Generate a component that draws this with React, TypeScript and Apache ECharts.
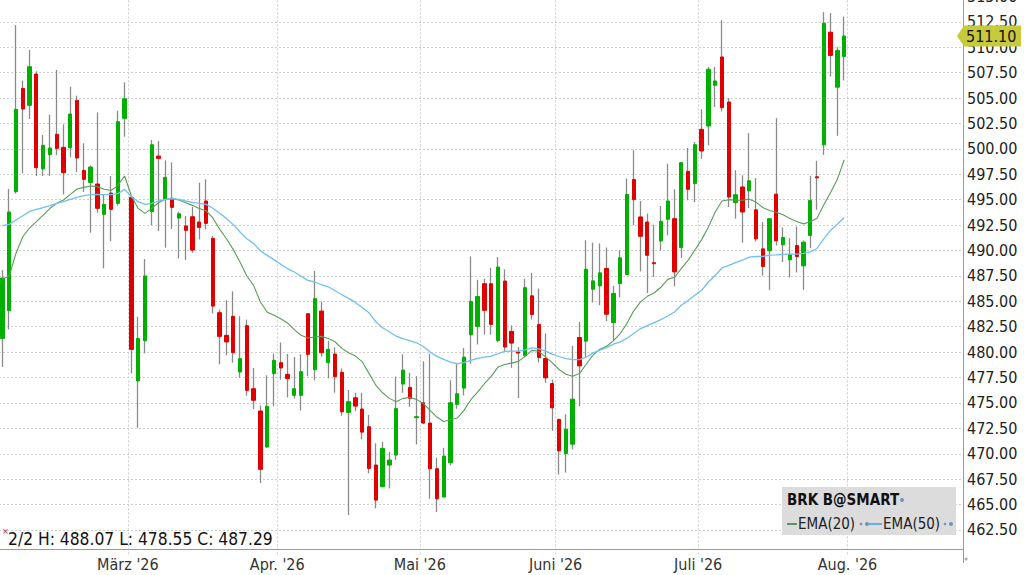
import React, { useEffect, useRef } from "react";
import * as echarts from "echarts";

// ---- data ----
const opens = [
  481.35, 484.08, 495.79, 505.95, 504.28, 507.36, 498.02, 499.43, 501.43, 500.15,
  500.11, 504.77, 497.88, 496.7, 496.54, 493.56, 495.65, 494.64, 503.0, 495.23,
  477.16, 481.12, 493.82, 499.29, 495.03, 495.13, 493.19, 492.41, 493.32, 492.8,
  494.87, 491.19, 483.88, 481.65, 483.52, 478.04, 482.6, 476.4, 474.21, 470.66,
  477.88, 478.96, 477.81, 475.75, 475.75, 483.78, 478.27, 484.04, 478.96, 479.81,
  478.01, 474.07, 475.51, 474.4, 472.66, 468.89, 466.76, 468.89, 469.87, 476.86,
  476.53, 473.55, 475.02, 473.02, 468.53, 465.74, 469.12, 474.86, 476.46, 481.71,
  482.53, 486.73, 486.73, 481.15, 486.99, 482.04, 480.01, 479.68, 485.54, 482.72,
  479.37, 476.91, 473.37, 470.02, 470.94, 481.44, 481.08, 486.19, 486.52, 488.23,
  482.91, 486.75, 487.64, 496.98, 493.3, 492.8, 488.8, 490.94, 493.07, 493.13,
  490.28, 497.79, 496.58, 501.92, 502.25, 506.25, 509.04, 504.61, 494.71, 496.25,
  495.87, 494.0, 490.16, 489.97, 495.54, 490.56, 489.08, 490.49, 488.49, 491.48,
  497.25, 500.4, 511.48, 506.07, 509.09,
];
const highs = [
  488.07, 496.05, 512.18, 506.71, 509.72, 507.63, 501.36, 503.36, 507.76, 502.41,
  506.12, 505.23, 500.54, 498.37, 503.59, 495.52, 497.33, 503.75, 506.55, 495.3,
  483.48, 489.16, 500.87, 500.77, 498.87, 498.67, 493.82, 493.39, 494.31, 496.67,
  497.0, 491.42, 484.18, 485.1, 485.98, 483.52, 483.19, 478.44, 474.76, 477.72,
  479.85, 480.94, 479.82, 479.52, 479.78, 483.85, 487.98, 484.96, 481.12, 480.46,
  478.4, 476.27, 476.0, 476.0, 473.81, 471.02, 471.18, 470.2, 477.6, 479.78,
  477.97, 477.64, 479.09, 479.84, 469.61, 470.59, 477.22, 478.86, 480.4, 489.42,
  487.12, 487.22, 488.3, 489.35, 488.14, 482.63, 480.5, 487.22, 487.8, 486.25,
  481.83, 477.3, 473.47, 473.89, 480.62, 482.98, 491.01, 490.78, 490.69, 490.29,
  486.52, 490.03, 497.08, 499.87, 494.87, 493.63, 492.54, 494.38, 498.54, 496.02,
  498.7, 500.09, 500.68, 503.89, 508.06, 508.06, 512.65, 505.0, 497.89, 497.4,
  501.55, 497.12, 492.79, 493.2, 503.02, 492.26, 491.21, 492.36, 490.98, 497.35,
  498.82, 513.45, 513.35, 510.0, 513.02,
];
const lows = [
  478.55, 482.24, 495.6, 497.59, 502.94, 497.33, 497.33, 497.33, 499.39, 495.52,
  499.16, 497.72, 495.75, 491.75, 493.72, 488.24, 490.93, 494.41, 501.2, 477.91,
  472.56, 479.88, 492.5, 491.91, 490.27, 492.13, 489.23, 489.06, 489.78, 491.09,
  492.08, 483.81, 478.8, 479.68, 478.96, 477.49, 475.72, 474.4, 467.12, 470.6,
  474.67, 477.29, 475.55, 475.42, 474.27, 477.62, 477.22, 479.55, 477.41, 476.0,
  473.74, 463.97, 474.2, 471.41, 468.07, 464.62, 466.7, 466.59, 469.38, 476.0,
  474.63, 470.92, 472.95, 465.57, 464.26, 465.7, 468.85, 474.43, 475.74, 478.86,
  480.76, 481.71, 481.71, 480.99, 480.07, 478.46, 475.48, 479.51, 483.21, 478.98,
  476.98, 472.25, 467.96, 468.15, 470.42, 474.68, 479.53, 484.88, 484.62, 483.04,
  481.17, 485.37, 487.6, 492.49, 487.95, 485.82, 487.39, 490.02, 491.5, 486.48,
  489.26, 494.94, 494.77, 499.04, 500.35, 504.12, 503.69, 494.28, 493.13, 490.77,
  494.17, 490.89, 487.54, 486.13, 490.49, 488.85, 487.34, 487.84, 486.13, 490.23,
  494.0, 499.41, 507.12, 501.28, 506.73,
];
const closes = [
  487.29, 493.79, 503.89, 503.92, 508.08, 498.15, 500.34, 500.08, 500.05, 497.65,
  503.43, 499.1, 497.0, 498.21, 494.15, 494.54, 494.05, 502.67, 504.93, 480.27,
  481.35, 487.49, 500.41, 499.06, 497.19, 494.24, 493.62, 491.98, 490.04, 492.27,
  492.67, 484.53, 481.55, 481.0, 479.95, 479.36, 476.24, 475.26, 468.47, 474.67,
  479.19, 478.44, 477.39, 476.4, 478.08, 479.78, 485.26, 479.94, 480.27, 477.58,
  474.13, 475.12, 474.69, 472.13, 468.56, 465.44, 470.53, 469.38, 474.45, 478.23,
  475.45, 473.65, 473.02, 468.53, 465.57, 469.77, 475.02, 475.91, 479.51, 484.99,
  485.48, 484.11, 482.73, 488.37, 480.5, 480.89, 479.91, 486.34, 483.7, 479.47,
  477.47, 474.52, 470.29, 472.42, 475.37, 478.65, 488.16, 487.01, 487.8, 483.73,
  485.77, 489.28, 495.51, 495.01, 491.4, 489.53, 488.7, 492.87, 494.87, 487.89,
  498.64, 496.02, 500.41, 499.79, 507.83, 506.68, 504.05, 495.26, 495.49, 493.79,
  496.86, 491.15, 488.43, 493.12, 490.95, 491.28, 489.57, 489.41, 490.82, 494.92,
  497.15, 512.37, 509.19, 509.68, 511.1,
];
const ema20 = [
  487.16, 487.49, 489.72, 491.36, 492.21, 492.84, 493.49, 494.15, 494.64, 494.97,
  495.52, 496.05, 496.21, 496.34, 496.28, 496.02, 495.9, 496.41, 497.33, 495.36,
  494.14, 493.65, 494.14, 494.7, 495.03, 495.1, 494.96, 494.7, 494.44, 494.14,
  493.91, 493.2, 492.1, 491.16, 490.11, 488.87, 487.49, 486.57, 484.93, 483.95,
  483.62, 483.29, 482.87, 482.21, 481.65, 481.39, 481.49, 481.55, 481.35, 481.02,
  480.37, 479.94, 479.61, 479.06, 477.91, 476.76, 476.0, 475.45, 475.12, 475.45,
  475.54, 475.35, 474.95, 474.27, 473.61, 473.18, 473.35, 473.51, 474.27, 475.32,
  476.07, 476.89, 477.61, 478.53, 478.79, 478.92, 479.09, 479.58, 480.17, 480.09,
  479.53, 478.94, 478.29, 477.83, 477.63, 477.89, 478.81, 479.7, 480.29, 480.58,
  481.11, 481.83, 482.81, 484.06, 484.95, 485.49, 485.82, 486.38, 487.16, 487.36,
  488.21, 489.03, 490.05, 491.07, 492.31, 493.79, 494.87, 495.0, 494.94, 494.94,
  495.05, 494.76, 494.23, 493.94, 493.77, 493.51, 493.15, 492.85, 492.62, 492.82,
  493.18, 494.49, 495.71, 497.02, 498.92,
];
const ema50 = [
  492.44, 492.57, 493.0, 493.42, 493.85, 494.04, 494.21, 494.41, 494.64, 494.8,
  495.03, 495.23, 495.39, 495.49, 495.52, 495.49, 495.49, 495.59, 496.01, 495.29,
  494.8, 494.54, 494.64, 494.87, 495.03, 495.1, 495.03, 494.87, 494.73, 494.64,
  494.54, 494.16, 493.67, 493.16, 492.54, 491.82, 491.16, 490.7, 489.98, 489.52,
  489.1, 488.64, 488.21, 487.88, 487.46, 487.06, 486.9, 486.63, 486.43, 486.04,
  485.65, 485.29, 484.89, 484.4, 483.88, 482.99, 482.4, 482.01, 481.58, 481.32,
  481.12, 480.92, 480.55, 480.01, 479.58, 479.28, 479.02, 478.86, 478.96, 479.18,
  479.38, 479.51, 479.61, 479.84, 480.07, 480.1, 480.1, 480.23, 480.42, 480.32,
  480.09, 479.8, 479.57, 479.37, 479.27, 479.27, 479.5, 479.93, 480.19, 480.45,
  480.78, 481.01, 481.37, 481.83, 482.32, 482.6, 482.9, 483.2, 483.55, 483.95,
  484.61, 485.07, 485.59, 486.08, 486.9, 487.56, 488.28, 488.54, 488.8, 489.05,
  489.35, 489.41, 489.41, 489.54, 489.57, 489.61, 489.64, 489.64, 489.71, 489.87,
  490.2, 491.15, 492.0, 492.59, 493.25,
];

const firstDay = "2026-02-02";
const holidays = ["2026-02-16", "2026-04-03", "2026-05-25", "2026-06-19", "2026-07-03", "2026-09-07"];
const slotCount = 142;
const monthNames = ["Jan.", "Feb.", "März", "Apr.", "Mai", "Juni", "Juli", "Aug.", "Sep.", "Okt.", "Nov.", "Dez."];
const yMin = 460;
const yMax = 515;
const yStep = 2.5;
const symbol = "BRK B@SMART";
const emaNames = ["EMA(20)", "EMA(50)"];

const FONT = '"DejaVu Sans Condensed", "DejaVu Sans", sans-serif';
const GREEN = "#00b000";
const RED = "#e00000";
const WICK = "#8a8a8a";
const EMA20_COLOR = "#5a9e5a";
const EMA50_COLOR = "#72bff5";
const GRID_COLOR = "#cfcfcf";
const AXIS_COLOR = "#9a9a9a";

function tradingDays(start: string, count: number): string[] {
  const out: string[] = [];
  const d = new Date(start + "T00:00:00Z");
  while (out.length < count) {
    const dow = d.getUTCDay();
    const iso = d.toISOString().slice(0, 10);
    if (dow !== 0 && dow !== 6 && !holidays.includes(iso)) out.push(iso);
    d.setUTCDate(d.getUTCDate() + 1);
  }
  return out;
}

export default function App() {
  const ref = useRef<HTMLDivElement>(null);

  useEffect(() => {
    if (!ref.current) return;
    const chart = echarts.init(ref.current, null, { renderer: "svg" });
    const dates = tradingDays(firstDay, slotCount);
    const isMonthStart = (i: number) =>
      i > 0 && !!dates[i] && !!dates[i - 1] && dates[i].slice(5, 7) !== dates[i - 1].slice(5, 7);

    const wickData = opens.map((o, i) => [o, closes[i], lows[i], highs[i]]);
    const bodyData = opens.map((o, i) => [o, closes[i], Math.min(o, closes[i]), Math.max(o, closes[i])]);

    chart.setOption({
      animation: false,
      backgroundColor: "#ffffff",
      grid: { left: -1, right: 61, top: -3.6, bottom: 19.6, outerBoundsMode: "none", containLabel: false },
      xAxis: {
        type: "category",
        data: dates,
        boundaryGap: true,
        offset: -6.4,
        axisLine: { show: true, lineStyle: { color: AXIS_COLOR, width: 1 } },
        axisTick: { show: false },
        axisLabel: {
          interval: (i: number) => isMonthStart(i),
          formatter: (v: string) => monthNames[+v.slice(5, 7) - 1] + " '" + v.slice(2, 4),
          color: "#333333",
          fontFamily: FONT,
          fontSize: 16,
          margin: 7,
          padding: [0, 7, 0, 0],
        },
        splitLine: {
          show: true,
          interval: (i: number) => isMonthStart(i),
          lineStyle: { color: GRID_COLOR, type: [2, 2], width: 1 },
        },
      },
      yAxis: {
        type: "value",
        position: "right",
        min: yMin,
        max: yMax,
        interval: yStep,
        axisLine: { show: true, lineStyle: { color: AXIS_COLOR, width: 1 } },
        axisTick: { show: false },
        axisLabel: {
          formatter: (v: number) => v.toFixed(2),
          color: "#222222",
          fontFamily: FONT,
          fontSize: 16,
          margin: 4,
          showMinLabel: false,
        },
        splitLine: { show: true, showMinLine: false, lineStyle: { color: GRID_COLOR, type: [2, 2], width: 1 } },
      },
      series: [
        {
          type: "candlestick",
          name: "wick",
          data: wickData,
          barWidth: 1,
          itemStyle: { color: WICK, color0: WICK, borderColor: WICK, borderColor0: WICK, borderWidth: 1.3 },
          z: 2,
        },
        {
          type: "candlestick",
          name: "body",
          data: bodyData,
          barWidth: 3.8,
          itemStyle: { color: GREEN, color0: RED, borderColor: GREEN, borderColor0: RED, borderWidth: 1, borderColorDoji: RED },
          z: 3,
        },
        {
          type: "line",
          name: emaNames[0],
          data: ema20,
          symbol: "none",
          lineStyle: { color: EMA20_COLOR, width: 1.1 },
          z: 4,
        },
        {
          type: "line",
          name: emaNames[1],
          data: ema50,
          symbol: "none",
          lineStyle: { color: EMA50_COLOR, width: 1.3 },
          z: 4,
        },
      ],
    });

    const last = closes[closes.length - 1];
    const py = chart.convertToPixel({ yAxisIndex: 0 }, last) as number;
    const d0 = dates[0];
    const info = `${+d0.slice(5, 7)}/${+d0.slice(8, 10)} H: ${highs[0].toFixed(2)} L: ${lows[0].toFixed(2)} C: ${closes[0].toFixed(2)}`;

    chart.setOption({
      graphic: [
        {
          type: "polygon",
          shape: { points: [[957, py], [964, py - 10.5], [1021, py - 10.5], [1021, py + 10.5], [964, py + 10.5]] },
          style: { fill: "#c7ca3b" },
          z: 100,
        },
        {
          type: "text",
          x: 966,
          y: py,
          style: { text: last.toFixed(2), fill: "#111111", font: `16px ${FONT}`, verticalAlign: "middle", align: "left" },
          z: 101,
        },
        { type: "line", shape: { x1: 963.5, y1: 555, x2: 963.5, y2: 563 }, style: { stroke: AXIS_COLOR, lineWidth: 1 }, z: 50 },
        {
          type: "rect",
          shape: { x: 782, y: 487, width: 174, height: 48 },
          style: { fill: "#dcdcdc" },
          z: 100,
        },
        {
          type: "text",
          x: 787,
          y: 500,
          style: { text: symbol, fill: "#111111", font: `bold 15px ${FONT}`, verticalAlign: "middle", align: "left" },
          z: 101,
        },
        { type: "circle", shape: { cx: 902, cy: 500, r: 2 }, style: { fill: "#6f93c4" }, z: 101 },
        { type: "line", shape: { x1: 787, y1: 524, x2: 797, y2: 524 }, style: { stroke: "#2f7f2f", lineWidth: 1.5 }, z: 101 },
        {
          type: "text",
          x: 798,
          y: 524,
          style: { text: emaNames[0], fill: "#222222", font: `15px ${FONT}`, verticalAlign: "middle", align: "left" },
          z: 101,
        },
        { type: "circle", shape: { cx: 861, cy: 524, r: 1.3 }, style: { fill: "#6f93c4" }, z: 101 },
        { type: "circle", shape: { cx: 867, cy: 524, r: 2 }, style: { fill: "#6f93c4" }, z: 101 },
        { type: "line", shape: { x1: 869, y1: 524, x2: 882, y2: 524 }, style: { stroke: "#3aa0f0", lineWidth: 1.5 }, z: 101 },
        {
          type: "text",
          x: 883,
          y: 524,
          style: { text: emaNames[1], fill: "#222222", font: `15px ${FONT}`, verticalAlign: "middle", align: "left" },
          z: 101,
        },
        { type: "circle", shape: { cx: 945, cy: 524, r: 1.3 }, style: { fill: "#6f93c4" }, z: 101 },
        { type: "circle", shape: { cx: 951, cy: 524, r: 2 }, style: { fill: "#6f93c4" }, z: 101 },
        {
          type: "text",
          x: 2,
          y: 531,
          style: { text: "×", fill: "#a03030", font: `9px ${FONT}`, verticalAlign: "middle", align: "left" },
          z: 101,
        },
        {
          type: "text",
          x: 8,
          y: 539,
          style: { text: info, fill: "#111111", font: `17.3px ${FONT}`, verticalAlign: "middle", align: "left" },
          z: 101,
        },
        {
          type: "text",
          x: 964,
          y: 561,
          style: { text: "*", fill: "#888888", font: `9px ${FONT}`, verticalAlign: "middle", align: "left" },
          z: 101,
        },
      ],
    });

    return () => chart.dispose();
  }, []);

  return (
    <div
      ref={ref}
      style={{ position: "fixed", left: 0, top: 0, width: 1024, height: 575, background: "#ffffff" }}
    />
  );
}
